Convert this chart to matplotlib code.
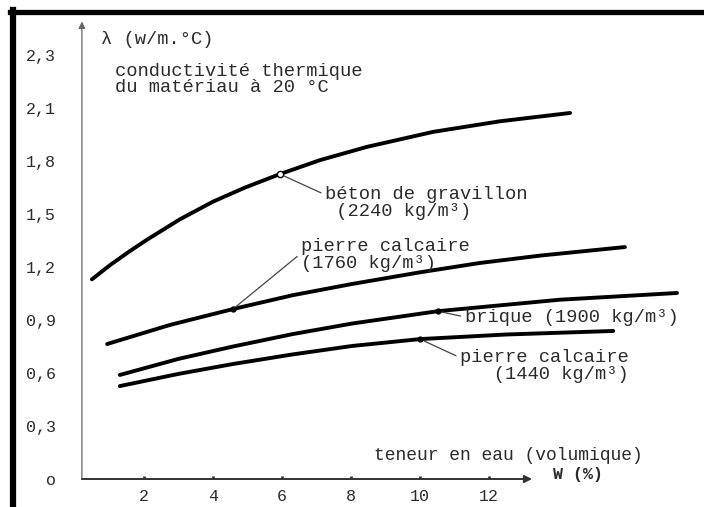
import matplotlib.pyplot as plt
from matplotlib.lines import Line2D

plt.rcParams['font.family'] = ['Liberation Mono', 'DejaVu Sans Mono']

# courbes (W en %, lambda en W/m.°C)
w_beton = [0.49, 1.01, 1.59, 2.09, 3.04, 4.0, 4.93, 5.94, 7.1, 8.46, 10.38, 12.32, 14.35]
l_beton = [1.13, 1.21, 1.29, 1.355, 1.47, 1.57, 1.65, 1.726, 1.805, 1.88, 1.965, 2.025, 2.072]

w_calc1760 = [0.93, 2.75, 4.58, 6.3, 8.03, 10.0, 11.74, 13.5, 15.94]
l_calc1760 = [0.764, 0.872, 0.962, 1.04, 1.104, 1.17, 1.223, 1.265, 1.313]

w_brique = [1.3, 3.0, 4.58, 6.3, 8.03, 10.52, 14.06, 17.45]
l_brique = [0.589, 0.68, 0.75, 0.82, 0.88, 0.95, 1.015, 1.053]

w_calc1440 = [1.3, 3.0, 4.58, 6.3, 8.03, 10.0, 12.5, 15.6]
l_calc1440 = [0.526, 0.595, 0.651, 0.705, 0.753, 0.792, 0.818, 0.838]

# points repères et étiquettes
labels = ["béton de gravillon\n (2240 kg/m³)",
          "pierre calcaire\n(1760 kg/m³)",
          "brique (1900 kg/m³)",
          "pierre calcaire\n   (1440 kg/m³)"]
mark_w = [5.94, 4.58, 10.52, 10.0]
mark_l = [1.726, 0.962, 0.95, 0.792]
label_w = [7.25, 6.55, 11.3, 11.16]
label_l = [1.562, 1.268, 0.917, 0.640]
label_rel = [0.75, 0.55, 0.5, 0.75]

xticks = [2, 4, 6, 8, 10, 12]
yticks = [0, 0.3, 0.6, 0.9, 1.2, 1.5, 1.8, 2.1, 2.4]
ytick_labels = ["o", "0,3", "0,6", "0,9", "1,2", "1,5", "1,8", "2,1", "2,3"]

txt = '#2b2b2b'

fig = plt.figure(figsize=(7.04, 5.07), dpi=100)
ax = fig.add_axes([75 / 704, 28 / 507, 621 / 704, 459.3 / 507])
ax.set_xlim(0, 18)
ax.set_ylim(0, 2.6)
for s in ax.spines.values():
    s.set_visible(False)

for w, l in [(w_beton, l_beton), (w_calc1760, l_calc1760),
             (w_brique, l_brique), (w_calc1440, l_calc1440)]:
    ax.plot(w, l, color='black', lw=2.8, solid_capstyle='round', solid_joinstyle='round')

# axes fléchés
ax.annotate('', xy=(0.2, 2.59), xytext=(0.2, 0), annotation_clip=False,
            arrowprops=dict(arrowstyle='-|>', lw=0.9, color='#666666', mutation_scale=10, shrinkA=0, shrinkB=0))
ax.annotate('', xy=(13.25, 0), xytext=(0.2, 0), annotation_clip=False,
            arrowprops=dict(arrowstyle='-|>', lw=1.4, color='#333333', mutation_scale=11, shrinkA=0, shrinkB=0))

ax.set_xticks(xticks)
ax.set_xticklabels([str(t) for t in xticks])
ax.set_yticks(yticks)
ax.set_yticklabels(ytick_labels)
ax.tick_params(axis='x', direction='in', length=2.5, width=2, color='#333333',
               pad=7, labelsize=12, labelcolor=txt)
ax.tick_params(axis='y', length=0, pad=14, labelsize=12, labelcolor=txt)

# repères et flèches d'étiquette
ax.plot(mark_w[0], mark_l[0], 'o', ms=4.5, mfc='white', mec='black', mew=1)
ax.plot(mark_w[1:], mark_l[1:], 'o', ms=3.5, color='black')
for i in range(len(labels)):
    ax.annotate(labels[i], xy=(mark_w[i], mark_l[i]), xytext=(label_w[i], label_l[i]),
                ha='left', va='center', fontsize=13.5, color=txt, linespacing=0.95,
                arrowprops=dict(arrowstyle='-', lw=0.9, color='#444444',
                                relpos=(0, label_rel[i]), shrinkA=1, shrinkB=3))

ax.text(0.75, 2.49, "λ (w/m.°C)", ha='left', va='center', fontsize=13.5, color=txt)
ax.text(1.16, 2.262, "conductivité thermique\ndu matériau à 20 °C",
        ha='left', va='center', fontsize=13.5, color=txt, linespacing=0.95)
ax.text(8.67, 0.135, "teneur en eau (volumique)", ha='left', va='center', fontsize=13, color=txt)
ax.text(13.86, 0.025, "W (%)", ha='left', va='center', fontsize=12, color=txt, fontweight='bold')

# cadre noir du scan (haut et gauche)
fig.add_artist(Line2D([10 / 704, 1], [1 - 12 / 507, 1 - 12 / 507], color='black', lw=3.8,
                      transform=fig.transFigure))
fig.add_artist(Line2D([13 / 704, 13 / 704], [0, 1 - 10 / 507], color='black', lw=4.5,
                      transform=fig.transFigure))

fig.savefig('out.png', dpi=100)
